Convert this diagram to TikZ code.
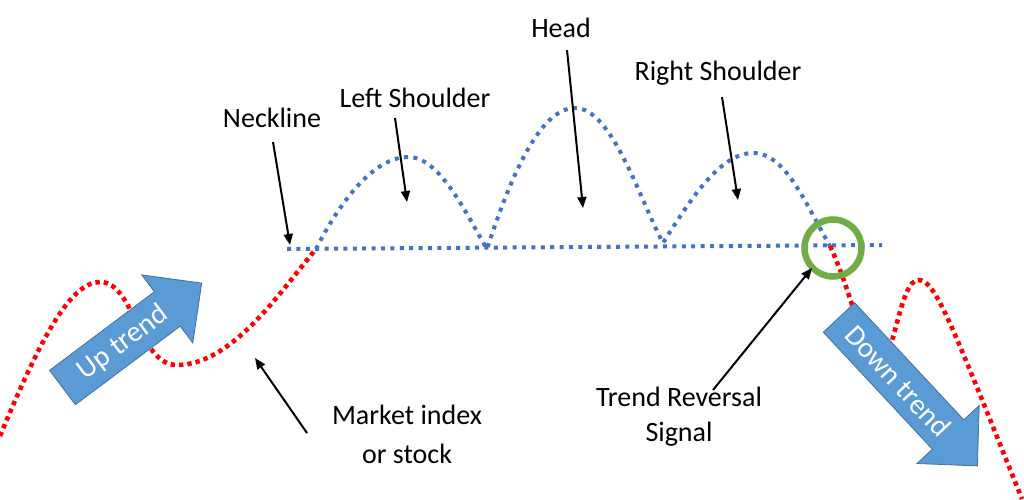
\documentclass[tikz,border=0pt]{standalone}
\usepackage{fontspec}
\setmainfont{Carlito}
\usetikzlibrary{arrows.meta}
\definecolor{lineblue}{HTML}{4472C4}
\definecolor{arrowfill}{HTML}{5B9BD5}
\definecolor{arrowedge}{HTML}{41719C}
\definecolor{ringgreen}{HTML}{70AD47}
\tikzset{
  reddots/.style={draw=red, line width=4.6pt, dash pattern=on 4.4pt off 4pt},
  bluedots/.style={draw=lineblue, line width=4pt, dash pattern=on 4pt off 5.4pt},
  blockarrow/.style={fill=arrowfill, draw=arrowedge, line width=0.8pt, line join=miter},
  arrowtext/.style={text=white, font=\fontsize{29}{34}\selectfont, inner sep=0pt},
  label/.style={text=black, font=\fontsize{28}{35}\selectfont, align=center, inner sep=0pt},
  pointer/.style={draw=black, line width=2pt, -{Triangle[length=11pt,width=9pt]}},
  ring/.style={draw=ringgreen, line width=6.5pt}
}
\begin{document}
\begin{tikzpicture}[x=1pt,y=-1pt]
\useasboundingbox (0,0) rectangle (1024,499);
\fill[white] (0,0) rectangle (1024,499);

% neckline
\coordinate (nlA) at (287,249);
\coordinate (nlB) at (882,245);
\draw[bluedots] (nlA) -- (nlB);

% head and shoulders (blue)
\coordinate (s0) at (316,249);
\coordinate (ls) at (408,157);
\coordinate (t1) at (487,249);
\coordinate (hd) at (575,108);
\coordinate (t2) at (663,243);
\coordinate (rs) at (753,153);
\coordinate (x1) at (830,246);
\draw[bluedots] (s0) .. controls (345,192) and (378,157) .. (ls)
  .. controls (440,157) and (465,212) .. (t1)
  .. controls (508,185) and (538,108) .. (hd)
  .. controls (612,108) and (640,200) .. (t2)
  .. controls (690,200) and (720,153) .. (rs)
  .. controls (786,153) and (806,205) .. (x1);

% red market lines
\draw[reddots] (0,436) .. controls (40,340) and (70,282) .. (100,282)
  .. controls (135,282) and (138,365) .. (177,365)
  .. controls (232,365) and (280,292) .. (s0);
\draw[reddots] (x1) .. controls (852,292) and (866,365) .. (879,365)
  .. controls (893,365) and (900,280) .. (918,280)
  .. controls (935,280) and (948,315) .. (1022,499);

% block arrows
\draw[blockarrow] (49.6,370.3) -- (154.4,291.7) -- (141.8,274.9) -- (201.7,283.1)
  -- (192.8,342.9) -- (180.2,326.1) -- (75.4,404.7) -- cycle;
\node[arrowtext, rotate=36.87] (up) at (123,343) {Up trend};
\draw[blockarrow] (854.7,302.8) -- (963.8,419.8) -- (979.2,405.5) -- (977.4,465.9)
  -- (917.0,463.5) -- (932.4,449.2) -- (823.3,332.2) -- cycle;
\node[arrowtext, rotate=-47] (down) at (898,381) {Down trend};

% signal ring
\node[ring, circle, minimum size=57pt, inner sep=0pt] (sig) at (833,248) {};

% labels
\node[label] (neck) at (272,118) {Neckline};
\node[label] (lsh) at (415,98) {Left Shoulder};
\node[label] (head) at (561,28) {Head};
\node[label] (rsh) at (718,73) {Right Shoulder};
\node[label, font=\fontsize{28}{39}\selectfont] (mkt) at (407,434) {Market index\\or stock};
\node[label] (trs) at (679,417) {Trend Reversal\\Signal};

% pointer ends
\coordinate (neckS) at (273,142);
\coordinate (neckE) at (290,245);
\coordinate (lshS) at (395,118);
\coordinate (lshE) at (407,202);
\coordinate (headS) at (567,50);
\coordinate (headE) at (583,208);
\coordinate (rshS) at (722,97);
\coordinate (rshE) at (738,200);
\coordinate (mktS) at (307,433);
\coordinate (mktE) at (255,358);
\coordinate (trsS) at (713,390);
\coordinate (trsE) at (812,268);

\draw[pointer] (neckS) -- (neckE);
\draw[pointer] (lshS) -- (lshE);
\draw[pointer] (headS) -- (headE);
\draw[pointer] (rshS) -- (rshE);
\draw[pointer] (mktS) -- (mktE);
\draw[pointer] (trsS) -- (trsE);
\end{tikzpicture}
\end{document}
